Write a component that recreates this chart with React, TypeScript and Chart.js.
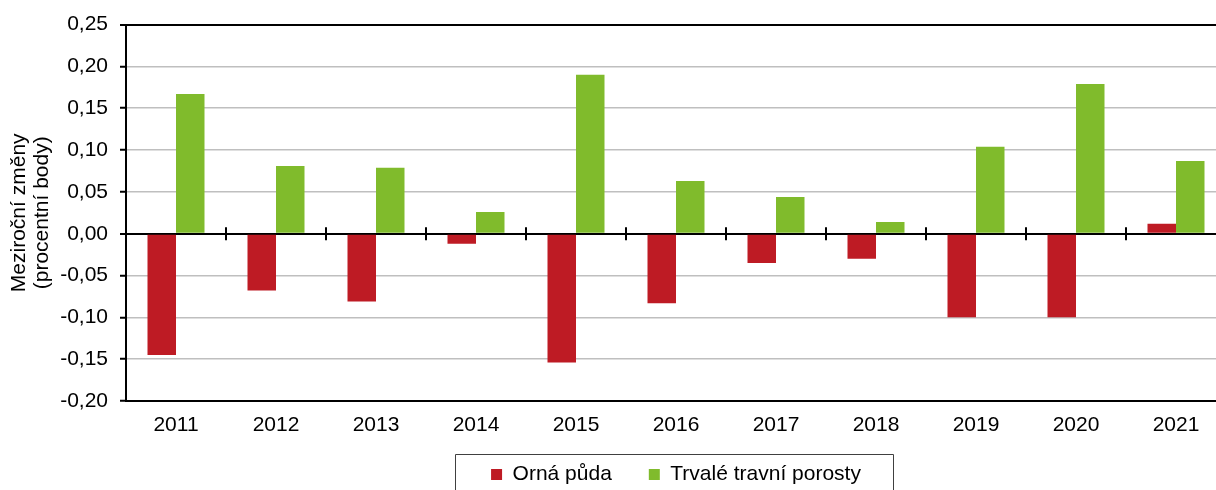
import React, { useEffect, useRef } from "react";
import { Chart, registerables } from "chart.js";

Chart.register(...registerables);

const years = ["2011", "2012", "2013", "2014", "2015", "2016", "2017", "2018", "2019", "2020", "2021"];
const ornaPuda = [-0.145, -0.068, -0.081, -0.012, -0.154, -0.083, -0.035, -0.030, -0.100, -0.100, 0.012];
const trvaleTravniPorosty = [0.167, 0.081, 0.079, 0.026, 0.190, 0.063, 0.044, 0.014, 0.104, 0.179, 0.087];
const seriesNames = ["Orná půda", "Trvalé travní porosty"];
const yAxisTitle = ["Meziroční změny", "(procentní body)"];
const yMin = -0.2;
const yMax = 0.25;
const yStep = 0.05;

const FONT = "'Liberation Sans', Arial, sans-serif";
const RED = "#BE1B24";
const GREEN = "#80BB2C";

const zeroTicksPlugin = {
  id: "zeroTicks",
  afterLayout(chart: any) {
    // let the category labels extend below the (narrow) fitted axis box without clipping
    const s = chart.scales.x;
    if (s) s.bottom = s.top + 50;
  },
  afterDatasetsDraw(chart: any) {
    const x = chart.scales.x;
    const y = chart.scales.y;
    const zy = y.getPixelForValue(0);
    const ctx = chart.ctx;
    ctx.save();
    ctx.strokeStyle = "#000";
    ctx.lineWidth = 2;
    for (let i = 1; i < years.length; i++) {
      const px = (x.getPixelForValue(i - 1) + x.getPixelForValue(i)) / 2;
      ctx.beginPath();
      ctx.moveTo(px, zy - 6.5);
      ctx.lineTo(px, zy + 6.5);
      ctx.stroke();
    }
    ctx.restore();
  },
};

const legendBoxPlugin = {
  id: "legendBox",
  afterDraw(chart: any) {
    const lg = chart.legend;
    if (!lg || !lg.legendHitBoxes || !lg.legendHitBoxes.length) return;
    const hb = lg.legendHitBoxes;
    const first = hb[0];
    const last = hb[hb.length - 1];
    const left = Math.round(first.left - 36) + 0.5;
    const right = Math.round(last.left + last.width + 32) + 0.5;
    const top = 454.5;
    const bottom = chart.height + 5;
    const ctx = chart.ctx;
    ctx.save();
    ctx.strokeStyle = "#404040";
    ctx.lineWidth = 1;
    ctx.beginPath();
    ctx.moveTo(left, bottom);
    ctx.lineTo(left, top);
    ctx.lineTo(right, top);
    ctx.lineTo(right, bottom);
    ctx.stroke();
    ctx.restore();
  },
};

const fmt = (v: number) => {
  const n = Math.abs(v) < 1e-9 ? 0 : v;
  return n.toFixed(2).replace(".", ",");
};

export default function App() {
  const ref = useRef<HTMLCanvasElement | null>(null);

  useEffect(() => {
    if (!ref.current) return;
    const chart = new Chart(ref.current, {
      type: "bar",
      data: {
        labels: years,
        datasets: [
          {
            label: seriesNames[0],
            data: ornaPuda,
            backgroundColor: RED,
            borderWidth: 0,
            categoryPercentage: 0.57,
            barPercentage: 1.0,
          },
          {
            label: seriesNames[1],
            data: trvaleTravniPorosty,
            backgroundColor: GREEN,
            borderWidth: 0,
            categoryPercentage: 0.57,
            barPercentage: 1.0,
          },
        ],
      },
      options: {
        responsive: false,
        animation: false,
        layout: { padding: { left: 0, right: 6, top: 22, bottom: 0 } },
        plugins: {
          tooltip: { enabled: false },
          legend: {
            position: "bottom",
            fullSize: false,
            labels: {
              boxWidth: 11,
              boxHeight: 11,
              padding: 37,
              color: "#000",
              font: { family: FONT, size: 21 },
            },
          },
        },
        scales: {
          x: {
            type: "category",
            offset: true,
            grid: { display: false, drawTicks: false },
            border: { display: true, color: "#000", width: 2 },
            ticks: {
              color: "#000",
              padding: 12,
              maxRotation: 0,
              autoSkip: false,
              font: { family: FONT, size: 21 },
            },
            afterFit: (s: any) => {
              s.height = 26;
            },
          },
          y: {
            min: yMin,
            max: yMax,
            grid: {
              color: (c: any) => {
                const v = c.tick ? c.tick.value : 0;
                if (Math.abs(v) < 1e-9 || v > yMax - 1e-6) return "#000";
                return "#BFBFBF";
              },
              lineWidth: (c: any) => {
                const v = c.tick ? c.tick.value : 0;
                if (Math.abs(v) < 1e-9 || v > yMax - 1e-6) return 2;
                return 1.5;
              },
              tickColor: "#000",
              tickWidth: 2,
              tickLength: 6,
              drawTicks: true,
            },
            border: { display: true, color: "#000", width: 2 },
            ticks: {
              stepSize: yStep,
              color: "#000",
              padding: 12,
              font: { family: FONT, size: 21 },
              callback: (v: any) => fmt(Number(v)),
            },
            title: {
              display: true,
              text: yAxisTitle,
              color: "#000",
              font: { family: FONT, size: 21, lineHeight: 1.1 },
              padding: { top: 8, bottom: 0 },
            },
            afterFit: (s: any) => {
              s.width = 126;
            },
          },
        },
      },
      plugins: [zeroTicksPlugin, legendBoxPlugin],
    });
    return () => chart.destroy();
  }, []);

  return (
    <div style={{ position: "fixed", left: 0, top: 0, width: 1232, height: 495, background: "#fff" }}>
      <canvas ref={ref} width={1232} height={495} style={{ display: "block" }} />
    </div>
  );
}
